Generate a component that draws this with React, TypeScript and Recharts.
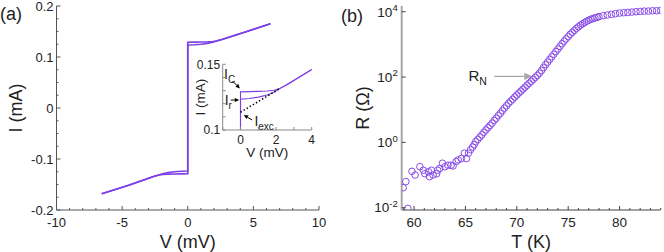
import React from 'react';
import {
  LineChart, Line, XAxis, YAxis, ScatterChart, Scatter, ReferenceLine, ReferenceDot, Label,
} from 'recharts';

const FONT = '"Liberation Sans", Arial, Helvetica, sans-serif';
const PURPLE = '#7b3fe6';
const CIRCLE = '#8a4ce8';
const TEXT = '#222';

// ---------- Panel (a): I-V curve ----------
const SWEEP_UP_V = [-6.55, -4.5, -2.6, -2.2, -1.9, -1.5, -1.0, -0.5, 0, 0, 0.5, 1.0, 1.5, 1.9, 2.2, 2.6, 4.5, 6.3];
const SWEEP_UP_I = [-0.168, -0.1515, -0.1345, -0.1315, -0.129, -0.1266, -0.125, -0.124, -0.1234, 0.129, 0.1292, 0.1294, 0.1297, 0.1302, 0.1315, 0.1345, 0.150, 0.165];
const SWEEP_DOWN_V = [6.3, 4.5, 2.6, 2.2, 1.9, 1.5, 1.0, 0.5, 0, 0, -0.5, -1.0, -1.5, -1.9, -2.2, -2.6, -4.5, -6.55];
const SWEEP_DOWN_I = [0.165, 0.150, 0.1345, 0.1315, 0.129, 0.1266, 0.125, 0.124, 0.1234, -0.129, -0.1292, -0.1294, -0.1297, -0.1302, -0.1315, -0.1345, -0.1515, -0.168];
const EXC_V = [0, 2.2];
const EXC_I = [0.1135, 0.1315];

const A_X_MAJOR = [-10, -5, 0, 5, 10];
const A_X_TICKS = [-10, -9, -8, -7, -6, -5, -4, -3, -2, -1, 0, 1, 2, 3, 4, 5, 6, 7, 8, 9, 10];
const A_Y_MAJOR = [-0.2, -0.1, 0, 0.1, 0.2];
const A_Y_TICKS = [-0.2, -0.175, -0.15, -0.125, -0.1, -0.075, -0.05, -0.025, 0, 0.025, 0.05, 0.075, 0.1, 0.125, 0.15, 0.175, 0.2];

const IN_X_MAJOR = [0, 2, 4];
const IN_X_TICKS = [-1, 0, 1, 2, 3, 4];
const IN_Y_MAJOR = [0.1, 0.15];
const IN_Y_TICKS = [0.1, 0.11, 0.12, 0.13, 0.14, 0.15];

// ---------- Panel (b): R-T ----------
const RT_T = [
  58.95, 59.2, 59.4, 59.8, 60.1, 60.57, 60.9, 61.05, 61.4, 61.5, 61.7, 61.85, 62.2, 62.3, 62.5, 62.76,
  63.0, 63.3, 63.6, 63.8, 64.1, 64.3, 64.6, 64.9, 65.1, 65.3, 65.5, 65.7, 65.85,
  66.0, 66.2, 66.4, 66.6, 66.8, 67.0, 67.2, 67.4, 67.6, 67.8, 68.0, 68.2, 68.4, 68.6, 68.8,
  69.0, 69.2, 69.4, 69.6, 69.8, 70.0, 70.2, 70.4, 70.6, 70.8, 71.0, 71.2, 71.4, 71.6, 71.8,
  72.0, 72.2, 72.4, 72.6, 72.8, 73.0, 73.2, 73.4, 73.6, 73.8, 74.0, 74.2, 74.4, 74.6, 74.8,
  75.0, 75.2, 75.4, 75.6, 75.8, 76.0, 76.2, 76.4, 76.6, 76.8, 77.0, 77.2, 77.4, 77.6, 77.8,
  78.0, 78.4, 78.8, 79.2, 79.6, 80.0, 80.4, 80.8, 81.2, 81.6, 82.0, 82.4, 82.8, 83.2, 83.6, 84.0,
];
const RT_R = [
  0.041, 0.063, 0.0095, 0.13, 0.10, 0.18, 0.14, 0.11, 0.126, 0.089, 0.14, 0.10, 0.11, 0.14, 0.16, 0.23,
  0.18, 0.20, 0.20, 0.19, 0.26, 0.29, 0.32, 0.47, 0.32, 0.47, 0.6, 0.72, 0.85,
  1.05, 1.23, 1.45, 1.70, 2.04, 2.40, 2.82, 3.31, 3.89, 4.68, 5.50, 6.61, 7.76, 9.33, 11.2,
  13.2, 15.8, 18.2, 20.9, 24.5, 28.2, 32.4, 37.2, 42.7, 49.0, 56.2, 64.6, 74.1, 85.1, 97.7,
  112, 132, 158, 195, 240, 288, 347, 417, 501, 603, 724, 871, 1047, 1259, 1479,
  1738, 2042, 2344, 2692, 3090, 3467, 3890, 4266, 4677, 5129, 5495, 5888, 6166, 6457, 6761,
  7079, 7586, 7943, 8318, 8710, 9120, 9333, 9550, 9772, 10000, 10230, 10470, 10470, 10720, 10720, 10960,
];
const B_X_MAJOR = [60, 65, 70, 75, 80];
const B_X_TICKS = [59, 60, 61, 62, 63, 64, 65, 66, 67, 68, 69, 70, 71, 72, 73, 74, 75, 76, 77, 78, 79, 80, 81, 82, 83, 84];
const B_Y_TICKS = [0.01, 1, 100, 10000];

const sweepUp = SWEEP_UP_V.map((v, i) => ({ V: v, I: SWEEP_UP_I[i] }));
const sweepDown = SWEEP_DOWN_V.map((v, i) => ({ V: v, I: SWEEP_DOWN_I[i] }));
const excLine = EXC_V.map((v, i) => ({ V: v, I: EXC_I[i] }));
const rtData = RT_T.map((t, i) => ({ T: t, R: RT_R[i] }));

type Orient = 'bottom' | 'top' | 'left' | 'right';
interface TickOpts {
  orient: Orient;
  majors: number[];
  labels?: boolean;
  fmt?: (v: number) => React.ReactNode;
  major?: number;
  minor?: number;
  gap?: number;
  fontSize?: number;
  lineColor?: string;
}

function makeTick(o: TickOpts) {
  const major = o.major ?? 4;
  const minor = o.minor ?? 2;
  const gap = o.gap ?? 4;
  const fs = o.fontSize ?? 13;
  const lc = o.lineColor ?? '#555';
  return (props: any) => {
    const { x, y, payload } = props;
    const v = payload.value as number;
    const isMajor = o.majors.some((m) => Math.abs(m - v) < 1e-9);
    const len = isMajor ? major : minor;
    const txt = o.fmt ? o.fmt(v) : String(v);
    let line: React.ReactNode = null;
    let label: React.ReactNode = null;
    const common = { fontSize: fs, fill: TEXT, fontFamily: FONT };
    if (o.orient === 'bottom') {
      line = <line x1={x} y1={y} x2={x} y2={y - len} stroke={lc} strokeWidth={1} />;
      if (o.labels && isMajor) label = <text x={x} y={y + gap} dy="0.71em" textAnchor="middle" {...common}>{txt}</text>;
    } else if (o.orient === 'top') {
      line = <line x1={x} y1={y} x2={x} y2={y + len} stroke={lc} strokeWidth={1} />;
    } else if (o.orient === 'left') {
      line = <line x1={x} y1={y} x2={x + len} y2={y} stroke={lc} strokeWidth={1} />;
      if (o.labels && isMajor) label = <text x={x - gap} y={y} dy="0.355em" textAnchor="end" {...common}>{txt}</text>;
    } else {
      line = <line x1={x} y1={y} x2={x - len} y2={y} stroke={lc} strokeWidth={1} />;
    }
    return <g>{line}{label}</g>;
  };
}

const fmtA = (v: number) => (v < 0 ? '-' + String(-v) : String(v));
const fmtLog = (v: number) => {
  const e = Math.round(Math.log10(v));
  return (
    <>
      <tspan>10</tspan>
      <tspan dy={-5.5} fontSize={9.5}>{e < 0 ? '-' + String(-e) : String(e)}</tspan>
    </>
  );
};

function makeArrow(color: string, head: number, width: number) {
  return (p: any) => {
    const { x1, y1, x2, y2 } = p;
    const ang = Math.atan2(y2 - y1, x2 - x1);
    const hx = x2 - head * Math.cos(ang);
    const hy = y2 - head * Math.sin(ang);
    const w = head * 0.45;
    const pts = [
      [x2, y2],
      [hx + w * Math.sin(ang), hy - w * Math.cos(ang)],
      [hx - w * Math.sin(ang), hy + w * Math.cos(ang)],
    ].map((q) => q.join(',')).join(' ');
    return (
      <g>
        <line x1={x1} y1={y1} x2={hx} y2={hy} stroke={color} strokeWidth={width} />
        <polygon points={pts} fill={color} />
      </g>
    );
  };
}

function makeSubText(main: string, sub: string, fs: number, sfs: number, color: string) {
  return (p: any) => (
    <text x={p.cx} y={p.cy} fontFamily={FONT} fontSize={fs} fill={color}>
      <tspan>{main}</tspan>
      <tspan dy={fs * 0.3} fontSize={sfs}>{sub}</tspan>
    </text>
  );
}

const circleShape = (p: any) => (
  <circle cx={p.cx} cy={p.cy} r={3.3} fill="none" stroke={CIRCLE} strokeWidth={1} />
);

const FRAME_A = '#555';
const FRAME_IN = '#8a8a8a';

export default function App() {
  return (
    <div style={{ position: 'absolute', left: 0, top: 0, width: 664, height: 252, background: '#fff', fontFamily: FONT }}>
      {/* Panel (a) */}
      <div style={{ position: 'absolute', left: 0, top: 0 }}>
        <LineChart width={332} height={252} margin={{ top: 6, right: 13, bottom: 0, left: 0 }}>
          <XAxis dataKey="V" type="number" domain={[-10, 10]} allowDataOverflow ticks={A_X_TICKS} interval={0}
            tickSize={0} tickMargin={0} tickLine={false} height={42} axisLine={{ stroke: FRAME_A }}
            tick={makeTick({ orient: 'bottom', majors: A_X_MAJOR, labels: true, fmt: fmtA, gap: 7.5, fontSize: 13, lineColor: FRAME_A })}>
            <Label value="V (mV)" position="insideBottom" offset={4} style={{ fontSize: 18, fill: TEXT, fontFamily: FONT }} />
          </XAxis>
          <XAxis xAxisId="top" orientation="top" type="number" domain={[-10, 10]} allowDataOverflow ticks={A_X_TICKS} interval={0}
            tickSize={0} tickMargin={0} tickLine={false} height={0} axisLine={{ stroke: FRAME_A }}
            tick={makeTick({ orient: 'top', majors: A_X_MAJOR, lineColor: FRAME_A })} />
          <YAxis type="number" domain={[-0.2, 0.2]} allowDataOverflow ticks={A_Y_TICKS} interval={0}
            tickSize={0} tickMargin={0} tickLine={false} width={56.5} axisLine={{ stroke: FRAME_A }}
            tick={makeTick({ orient: 'left', majors: A_Y_MAJOR, labels: true, fmt: fmtA, gap: 3, fontSize: 13, lineColor: FRAME_A })}>
            <Label value="I (mA)" position="insideLeft" angle={-90} offset={16} style={{ fontSize: 18, fill: TEXT, fontFamily: FONT, textAnchor: 'middle' }} />
          </YAxis>
          <YAxis yAxisId="right" orientation="right" type="number" domain={[-0.2, 0.2]} allowDataOverflow ticks={A_Y_TICKS} interval={0}
            tickSize={0} tickMargin={0} tickLine={false} width={0} axisLine={{ stroke: FRAME_A }}
            tick={makeTick({ orient: 'right', majors: A_Y_MAJOR, lineColor: FRAME_A })} />
          <Line data={sweepUp} dataKey="I" type="linear" stroke={PURPLE} strokeWidth={1.6} dot={false} isAnimationActive={false} />
          <Line data={sweepDown} dataKey="I" type="linear" stroke={PURPLE} strokeWidth={1.6} dot={false} isAnimationActive={false} />
        </LineChart>
      </div>

      {/* Inset */}
      <div style={{ position: 'absolute', left: 180, top: 55 }}>
        <LineChart width={140} height={110} margin={{ top: 9.3, right: 8.3, bottom: 0, left: 0 }}>
          <XAxis dataKey="V" type="number" domain={[-1, 4]} allowDataOverflow ticks={IN_X_TICKS} interval={0}
            tickSize={0} tickMargin={0} tickLine={false} height={35} axisLine={{ stroke: FRAME_IN }}
            tick={makeTick({ orient: 'bottom', majors: IN_X_MAJOR, labels: true, gap: 5, fontSize: 12, major: 3, minor: 3, lineColor: FRAME_IN })}>
            <Label value="V (mV)" position="insideBottom" offset={8} style={{ fontSize: 13.5, fill: TEXT, fontFamily: FONT }} />
          </XAxis>
          <XAxis xAxisId="top" orientation="top" type="number" domain={[-1, 4]} allowDataOverflow ticks={IN_X_TICKS} interval={0}
            tickSize={0} tickMargin={0} tickLine={false} height={0} axisLine={{ stroke: FRAME_IN }}
            tick={makeTick({ orient: 'top', majors: IN_X_MAJOR, major: 3, minor: 3, lineColor: FRAME_IN })} />
          <YAxis type="number" domain={[0.1, 0.15]} allowDataOverflow ticks={IN_Y_TICKS} interval={0}
            tickSize={0} tickMargin={0} tickLine={false} width={42.7} axisLine={{ stroke: FRAME_IN }}
            tick={makeTick({ orient: 'left', majors: IN_Y_MAJOR, labels: true, gap: 2.5, fontSize: 12, major: 3, minor: 3, lineColor: FRAME_IN })}>
            <Label value="I (mA)" position="insideLeft" angle={-90} offset={20} style={{ fontSize: 13.5, fill: TEXT, fontFamily: FONT, textAnchor: 'middle' }} />
          </YAxis>
          <YAxis yAxisId="right" orientation="right" type="number" domain={[0.1, 0.15]} allowDataOverflow ticks={IN_Y_TICKS} interval={0}
            tickSize={0} tickMargin={0} tickLine={false} width={0} axisLine={{ stroke: FRAME_IN }}
            tick={makeTick({ orient: 'right', majors: IN_Y_MAJOR, major: 3, minor: 3, lineColor: FRAME_IN })} />
          <Line data={sweepUp} dataKey="I" type="linear" stroke={PURPLE} strokeWidth={1.1} dot={false} isAnimationActive={false} />
          <Line data={sweepDown} dataKey="I" type="linear" stroke={PURPLE} strokeWidth={1.1} dot={false} isAnimationActive={false} />
          <Line data={excLine} dataKey="I" type="linear" stroke="#000" strokeWidth={1.6} strokeDasharray="1.4 2.2" dot={false} isAnimationActive={false} />
          <ReferenceLine segment={[{ x: -0.45, y: 0.1373 }, { x: -0.03, y: 0.1316 }]} shape={makeArrow('#000', 4.5, 1)} />
          <ReferenceLine segment={[{ x: -0.55, y: 0.1228 }, { x: -0.07, y: 0.1228 }]} shape={makeArrow('#000', 4.5, 1)} />
          <ReferenceLine segment={[{ x: 0.65, y: 0.1076 }, { x: 0.18, y: 0.1114 }]} shape={makeArrow('#000', 4.5, 1)} />
          <ReferenceDot x={-0.92} y={0.1388} r={0} shape={makeSubText('I', 'C', 14, 10, TEXT)} />
          <ReferenceDot x={-0.89} y={0.1190} r={0} shape={makeSubText('I', 'r', 14, 10, TEXT)} />
          <ReferenceDot x={0.78} y={0.1030} r={0} shape={makeSubText('I', 'exc', 14, 10, TEXT)} />
        </LineChart>
      </div>

      {/* Panel (b) */}
      <div style={{ position: 'absolute', left: 332, top: 0 }}>
        <ScatterChart width={332} height={252} margin={{ top: 6, right: 3.3, bottom: 0, left: 0 }}>
          <XAxis dataKey="T" type="number" domain={[58.8, 84]} allowDataOverflow ticks={B_X_TICKS} interval={0}
            tickSize={0} tickMargin={0} tickLine={false} height={42} axisLine={{ stroke: '#444' }}
            tick={makeTick({ orient: 'bottom', majors: B_X_MAJOR, labels: true, gap: 7, fontSize: 13.5, lineColor: '#444' })}>
            <Label value="T (K)" position="insideBottom" offset={4} style={{ fontSize: 18, fill: TEXT, fontFamily: FONT }} />
          </XAxis>
          <XAxis xAxisId="top" orientation="top" type="number" domain={[58.8, 84]} allowDataOverflow ticks={B_X_TICKS} interval={0}
            tickSize={0} tickMargin={0} tickLine={false} height={0} axisLine={{ stroke: '#444' }}
            tick={makeTick({ orient: 'top', majors: B_X_MAJOR, lineColor: '#444' })} />
          <YAxis dataKey="R" type="number" scale="log" domain={[0.0085, 15000]} allowDataOverflow ticks={B_Y_TICKS} interval={0}
            tickSize={0} tickMargin={0} tickLine={false} width={69.7} axisLine={{ stroke: '#a6a6a6', strokeWidth: 2 }}
            tick={makeTick({ orient: 'left', majors: B_Y_TICKS, labels: true, fmt: fmtLog, gap: 4, fontSize: 13.5, lineColor: '#444' })}>
            <Label value="R (Ω)" position="insideLeft" angle={-90} offset={31} style={{ fontSize: 18, fill: TEXT, fontFamily: FONT, textAnchor: 'middle' }} />
          </YAxis>
          <YAxis yAxisId="right" orientation="right" type="number" scale="log" domain={[0.0085, 15000]} allowDataOverflow ticks={B_Y_TICKS} interval={0}
            tickSize={0} tickMargin={0} tickLine={false} width={0} axisLine={{ stroke: '#a6a6a6', strokeWidth: 2 }}
            tick={makeTick({ orient: 'right', majors: B_Y_TICKS, lineColor: '#444' })} />
          <Scatter data={rtData} shape={circleShape} isAnimationActive={false} />
          <ReferenceLine segment={[{ x: 67.8, y: 105 }, { x: 71.5, y: 105 }]} shape={makeArrow('#a6a6a6', 8, 1.2)} />
          <ReferenceDot x={65.3} y={76} r={0} shape={makeSubText('R', 'N', 15, 10.5, TEXT)} />
        </ScatterChart>
      </div>

      <svg width={664} height={252} style={{ position: 'absolute', left: 0, top: 0, pointerEvents: 'none' }}>
        <text x={0} y={20} fontFamily={FONT} fontSize={18} fill={TEXT}>(a)</text>
        <text x={341} y={22} fontFamily={FONT} fontSize={18} fill={TEXT}>(b)</text>
      </svg>
    </div>
  );
}
